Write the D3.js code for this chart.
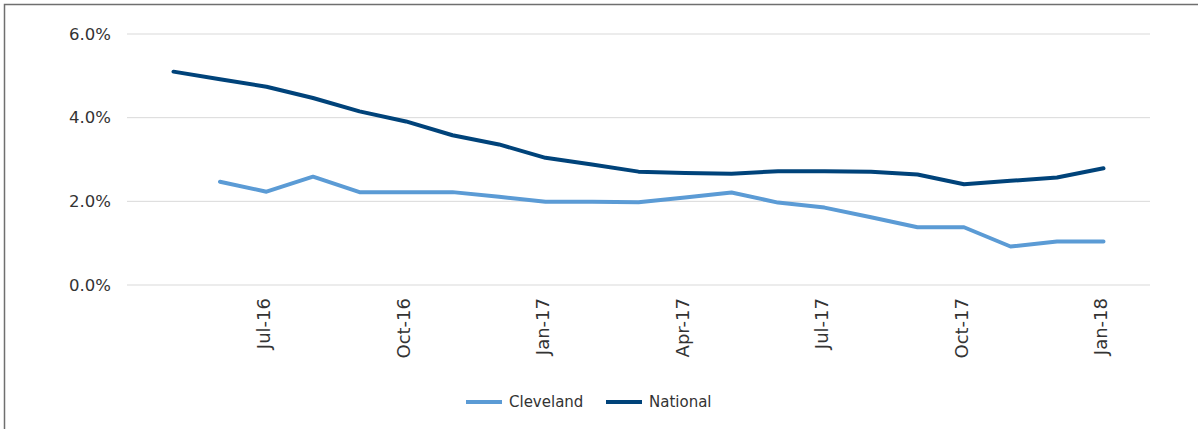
<!DOCTYPE html>
<html>
<head>
<meta charset="utf-8">
<script src="https://cdn.jsdelivr.net/npm/d3@7"></script>
<style>
  body { margin: 0; background: #fff; }
  svg { display: block; font-family: "DejaVu Sans", sans-serif; }
</style>
</head>
<body>
<div id="chart"></div>
<script>
// months shown on the category axis (May-16 .. Jan-18)
var months = ["May-16", "Jun-16", "Jul-16", "Aug-16", "Sep-16", "Oct-16", "Nov-16",
    "Dec-16", "Jan-17", "Feb-17", "Mar-17", "Apr-17", "May-17", "Jun-17", "Jul-17",
    "Aug-17", "Sep-17", "Oct-17", "Nov-17", "Dec-17", "Jan-18"];

// values in percent, null where no data
var cleveland = [null, 2.47, 2.23, 2.59, 2.22, 2.22, 2.22, 2.11, 1.99, 1.99, 1.98,
    2.09, 2.21, 1.97, 1.85, 1.62, 1.38, 1.38, 0.92, 1.04, 1.04];
var national = [5.10, 4.92, 4.74, 4.47, 4.15, 3.91, 3.58, 3.36, 3.04, 2.88, 2.71,
    2.68, 2.66, 2.72, 2.72, 2.71, 2.64, 2.41, 2.49, 2.57, 2.79];

var xTickLabels = ["Jul-16", "Oct-16", "Jan-17", "Apr-17", "Jul-17", "Oct-17", "Jan-18"];
var yTicks = [0, 2, 4, 6];

var seriesNames = ["Cleveland", "National"];
var seriesColors = ["#5b9bd5", "#00437a"];

function drawChart(container) {
    "use strict";

    var width = 1198,
        height = 429,
        margin = {left: 127, right: 48, top: 34, bottom: 144},
        widthInside = width - margin.left - margin.right,
        heightInside = height - margin.top - margin.bottom,
        textColor = "#333";

    var svg = container.append("svg")
        .attr("width", width)
        .attr("height", height);

    // outer frame (right and bottom edges fall outside the picture)
    svg.append("rect")
        .attr("x", 4.5).attr("y", 4.5)
        .attr("width", width + 20).attr("height", height + 20)
        .attr("fill", "none")
        .attr("stroke", "#6f6f6f")
        .attr("stroke-width", 1.5);

    var plot = svg.append("g")
        .attr("transform", "translate(" + margin.left + "," + margin.top + ")");

    var x = d3.scalePoint()
        .domain(months)
        .range([0, widthInside])
        .padding(1);
    var y = d3.scaleLinear()
        .domain([0, 6])
        .range([heightInside, 0]);

    // gridlines
    plot.append("g")
        .selectAll("line")
        .data(yTicks)
        .join("line")
        .attr("x1", 0).attr("x2", widthInside)
        .attr("y1", function (d) { return y(d); })
        .attr("y2", function (d) { return y(d); })
        .attr("stroke", "#d9d9d9")
        .attr("stroke-width", 1);

    // Y axis labels
    var yAxis = plot.append("g")
        .call(d3.axisLeft(y).tickValues(yTicks).tickSize(0).tickPadding(16)
            .tickFormat(function (d) { return d.toFixed(1) + "%"; }));
    yAxis.select(".domain").remove();
    yAxis.selectAll("text")
        .style("font-size", "16.5px")
        .style("font-family", "'DejaVu Sans', sans-serif")
        .attr("fill", textColor);

    // X axis labels (rotated)
    var xAxis = plot.append("g")
        .attr("transform", "translate(0," + heightInside + ")")
        .call(d3.axisBottom(x).tickValues(xTickLabels).tickSize(0));
    xAxis.select(".domain").remove();
    xAxis.selectAll("text")
        .attr("transform", "rotate(-90)")
        .attr("x", -13)
        .attr("y", -3)
        .attr("dy", "0.35em")
        .style("text-anchor", "end")
        .style("font-size", "18px")
        .style("font-family", "'DejaVu Sans', sans-serif")
        .attr("fill", textColor);

    var line = d3.line()
        .defined(function (d) { return d.v !== null; })
        .x(function (d) { return x(d.m); })
        .y(function (d) { return y(d.v); });

    [cleveland, national].forEach(function (values, i) {
        var pts = months.map(function (m, j) { return {m: m, v: values[j]}; });
        plot.append("path")
            .datum(pts)
            .attr("fill", "none")
            .attr("stroke", seriesColors[i])
            .attr("stroke-width", 4)
            .attr("stroke-linejoin", "round")
            .attr("stroke-linecap", "round")
            .attr("d", line);
    });

    // legend
    var legendX = [466, 606];
    var legend = svg.append("g").attr("transform", "translate(0,402)");
    seriesNames.forEach(function (name, i) {
        legend.append("line")
            .attr("x1", legendX[i]).attr("x2", legendX[i] + 36)
            .attr("y1", 0).attr("y2", 0)
            .attr("stroke", seriesColors[i])
            .attr("stroke-width", 4);
        legend.append("text")
            .attr("x", legendX[i] + 43)
            .attr("y", 0)
            .attr("dy", "0.35em")
            .style("font-size", "15px")
            .attr("fill", textColor)
            .text(name);
    });
}

drawChart(d3.select("#chart"));
</script>
</body>
</html>
